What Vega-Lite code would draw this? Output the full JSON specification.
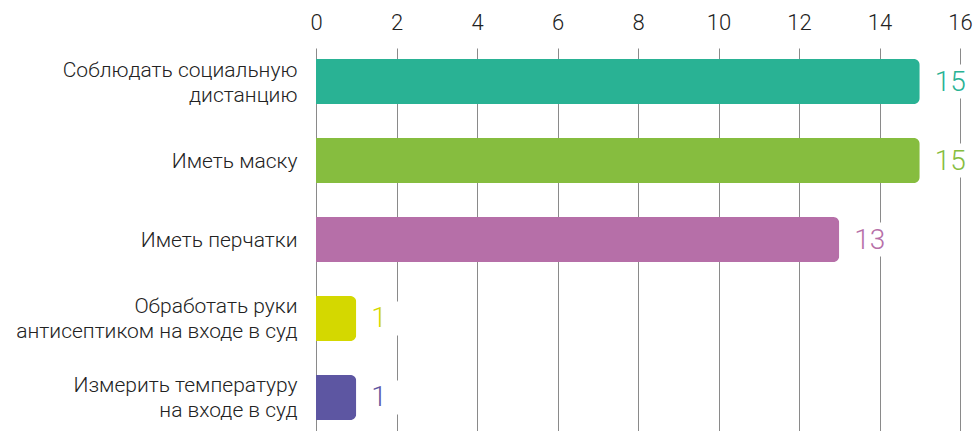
{
  "$schema": "https://vega.github.io/schema/vega-lite/v6.json",
  "width": 644,
  "height": 383,
  "autosize": {"type": "none"},
  "padding": {"left": 316, "top": 48, "right": 16, "bottom": 0},
  "background": "white",
  "config": {
    "view": {"stroke": null},
    "font": "Roboto",
    "axis": {"labelFont": "Roboto", "labelFontWeight": 300}
  },
  "data": {
    "values": [
      {"label": "Соблюдать социальную|дистанцию", "value": 15},
      {"label": "Иметь маску", "value": 15},
      {"label": "Иметь перчатки", "value": 13},
      {"label": "Обработать руки|антисептиком на входе в суд", "value": 1},
      {"label": "Измерить температуру|на входе в суд", "value": 1}
    ]
  },
  "encoding": {
    "y": {
      "field": "label",
      "type": "nominal",
      "sort": null,
      "scale": {"paddingInner": 0.43, "paddingOuter": 0.14},
      "axis": {
        "title": null,
        "domain": false,
        "ticks": false,
        "labelPadding": 19,
        "labelFontSize": 21,
        "labelColor": "#222222",
        "labelLineHeight": 25,
        "labelLimit": 400,
        "labelBaseline": "middle",
        "labelOffset": {"condition": {"test": "indexof(datum.value, '|') >= 0", "value": -11}, "value": 1},
        "labelExpr": "split(datum.value, '|')"
      }
    }
  },
  "layer": [
    {
      "mark": {"type": "bar", "cornerRadiusEnd": 6},
      "encoding": {
        "x": {
          "field": "value",
          "type": "quantitative",
          "scale": {"domain": [0, 16], "nice": false},
          "axis": {
            "orient": "top",
            "title": null,
            "domain": false,
            "ticks": false,
            "values": [0, 2, 4, 6, 8, 10, 12, 14, 16],
            "grid": true,
            "gridColor": "#8a8a8a",
            "gridWidth": 1,
            "gridOpacity": 1,
            "labelPadding": 14,
            "labelFontSize": 22,
            "labelColor": "#222222",
            "labelFlush": false,
            "labelOverlap": false
          }
        },
        "color": {
          "field": "label",
          "type": "nominal",
          "legend": null,
          "scale": {
            "domain": [
              "Соблюдать социальную|дистанцию",
              "Иметь маску",
              "Иметь перчатки",
              "Обработать руки|антисептиком на входе в суд",
              "Измерить температуру|на входе в суд"
            ],
            "range": ["#29b294", "#86bd3f", "#b66fa8", "#d4d800", "#5d56a2"]
          }
        }
      }
    },
    {
      "mark": {"type": "bar", "color": "white", "height": 34, "xOffset": 9, "x2Offset": 52},
      "encoding": {
        "x": {"field": "value", "type": "quantitative"},
        "x2": {"field": "value"}
      }
    },
    {
      "mark": {"type": "text", "align": "left", "baseline": "middle", "dx": 15, "dy": 1, "fontSize": 28, "fontWeight": 300, "font": "Roboto"},
      "encoding": {
        "x": {"field": "value", "type": "quantitative"},
        "text": {"field": "value", "type": "quantitative"},
        "color": {"field": "label", "type": "nominal", "legend": null}
      }
    }
  ]
}
